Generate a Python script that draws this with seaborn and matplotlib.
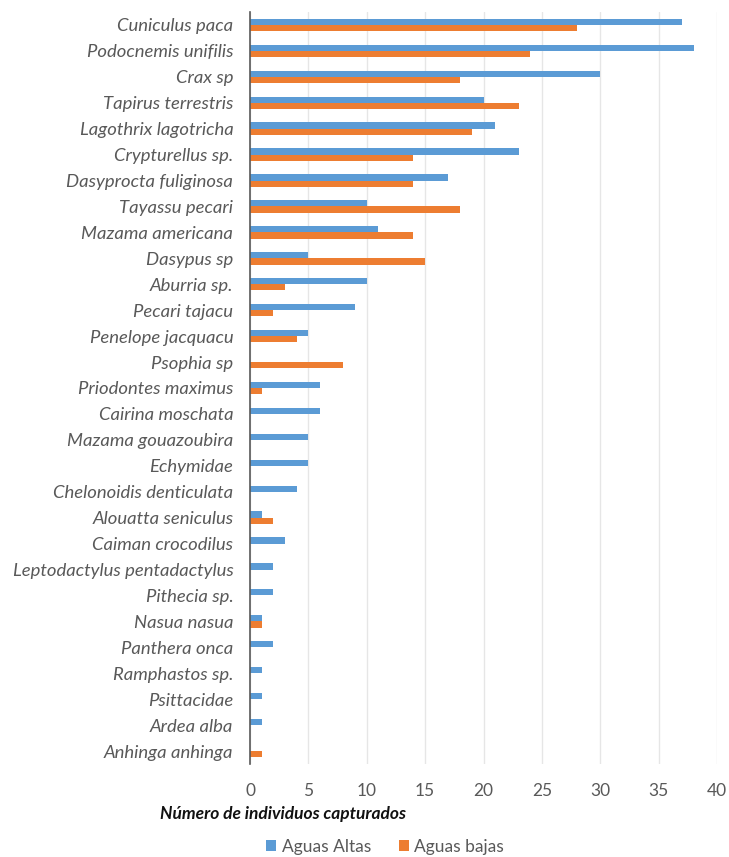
import matplotlib
matplotlib.use("Agg")
import matplotlib.pyplot as plt
from matplotlib.patches import Patch
import pandas as pd
import seaborn as sns

species = [
    "Cuniculus paca", "Podocnemis unifilis", "Crax sp", "Tapirus terrestris",
    "Lagothrix lagotricha", "Crypturellus sp.", "Dasyprocta fuliginosa",
    "Tayassu pecari", "Mazama americana", "Dasypus sp", "Aburria sp.",
    "Pecari tajacu", "Penelope jacquacu", "Psophia sp", "Priodontes maximus",
    "Cairina moschata", "Mazama gouazoubira", "Echymidae",
    "Chelonoidis denticulata", "Alouatta seniculus", "Caiman crocodilus",
    "Leptodactylus pentadactylus", "Pithecia sp.", "Nasua nasua",
    "Panthera onca", "Ramphastos sp.", "Psittacidae", "Ardea alba",
    "Anhinga anhinga",
]
aguas_altas = [37, 38, 30, 20, 21, 23, 17, 10, 11, 5, 10, 9, 5, 0, 6,
               6, 5, 5, 4, 1, 3, 2, 2, 1, 2, 1, 1, 1, 0]
aguas_bajas = [28, 24, 18, 23, 19, 14, 14, 18, 14, 15, 3, 2, 4, 8, 1,
               0, 0, 0, 0, 2, 0, 0, 0, 1, 0, 0, 0, 0, 1]
series = ["Aguas Altas", "Aguas bajas"]
colors = ["#5B9BD5", "#ED7D31"]
x_ticks = [0, 5, 10, 15, 20, 25, 30, 35, 40]

df = pd.DataFrame({
    "especie": species * 2,
    "n": aguas_altas + aguas_bajas,
    "temporada": [series[0]] * len(species) + [series[1]] * len(species),
})

sns.set_theme(style="white")
plt.rcParams["font.family"] = ["Lato", "DejaVu Sans"]

W, H = 729, 857
fig = plt.figure(figsize=(W / 100, H / 100), dpi=100)
ax = fig.add_axes([250 / W, 1 - 764 / H, (717 - 250) / W, (764 - 12) / H])

sns.barplot(data=df, y="especie", x="n", hue="temporada", order=species,
            hue_order=series, palette=colors, orient="h", width=0.48,
            saturation=1, linewidth=0, legend=False, ax=ax)

ax.set_xlim(0, 40)
ax.set_ylim(len(species) - 0.5, -0.5)
ax.set_xticks(x_ticks)
ax.set_xticklabels([str(t) for t in x_ticks], color="#595959", fontsize=12.5)
ax.tick_params(axis="x", length=0, pad=14)
ax.tick_params(axis="y", length=0, pad=12)
for lbl in ax.get_yticklabels():
    lbl.set_fontstyle("italic")
    lbl.set_color("#595959")
    lbl.set_fontsize(13.3)
ax.grid(axis="x", color="#E6E6E6", linewidth=1)
ax.set_axisbelow(True)
for side in ["top", "right", "bottom"]:
    ax.spines[side].set_visible(False)
ax.spines["left"].set_color("#595959")
ax.spines["left"].set_linewidth(1.2)
ax.set_xlabel("")
ax.set_ylabel("")

fig.text(160 / W, 1 - 814 / H, "Número de individuos capturados",
         fontsize=12.5, fontweight="bold", fontstyle="italic", color="#111111",
         va="center", ha="left")

handles = [Patch(facecolor=c, edgecolor="none") for c in colors]
fig.legend(handles, series, loc="center", bbox_to_anchor=(385 / W, 1 - 847 / H),
           ncol=2, frameon=False, fontsize=12.5, handlelength=0.6, handleheight=0.6,
           handletextpad=0.3, columnspacing=1.6, labelcolor="#595959")

fig.savefig("out.png", dpi=100)
